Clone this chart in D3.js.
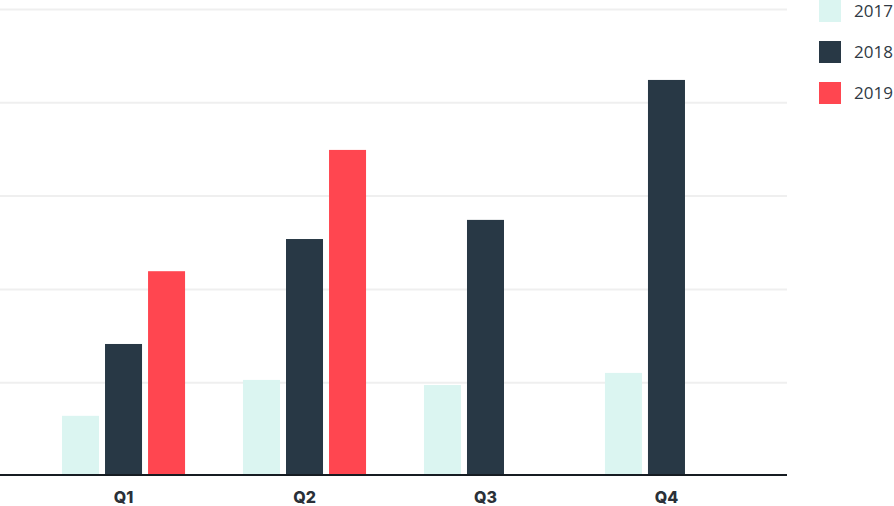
<!DOCTYPE html>
<html>
<head>
<meta charset="utf-8">
<style>
  body { margin: 0; background: #fff; }
  svg { display: block; }
</style>
</head>
<body>
<svg width="894" height="506"></svg>
<script src="https://d3js.org/d3.v7.min.js"></script>
<script>
// quarters along the x axis, one series per year
var quarters = ["Q1", "Q2", "Q3", "Q4"]
var years = ["2017", "2018", "2019"]
var values2017 = [12.9, 20.6, 19.5, 22.1]
var values2018 = [28.3, 50.8, 54.9, 84.9]
var values2019 = [43.9, 69.9, null, null]
var gridTicks = [20, 40, 60, 80, 100]

var colors = { "2017": "#dbf5f1", "2018": "#283845", "2019": "#ff4650" }

// build rows for drawing
var seriesByYear = { "2017": values2017, "2018": values2018, "2019": values2019 }
var rows = []
quarters.forEach(function (q, i) {
  years.forEach(function (y) {
    var v = seriesByYear[y][i]
    if (v != null) rows.push({ quarter: q, year: y, value: v })
  })
})

var svg = d3.select("svg")
var plotRight = 787

var x = d3.scaleBand()
  .domain(quarters)
  .range([0, 790])
  .paddingInner(0.32)
  .paddingOuter(0.3425)

var xInner = d3.scaleBand()
  .domain(years)
  .range([0, x.bandwidth()])
  .paddingInner(0.14)

var y = d3.scaleLinear()
  .domain([0, 100])
  .range([476, 9.5])

// gridlines
svg.append("g").attr("class", "grid")
  .selectAll("line")
  .data(gridTicks)
  .enter().append("line")
  .attr("x1", 0)
  .attr("x2", plotRight)
  .attr("y1", function (d) { return y(d) })
  .attr("y2", function (d) { return y(d) })
  .attr("stroke", "#efefef")
  .attr("stroke-width", 2)

// bars
svg.append("g").attr("class", "bars")
  .selectAll("rect")
  .data(rows)
  .enter().append("rect")
  .attr("x", function (d) { return x(d.quarter) + xInner(d.year) })
  .attr("width", xInner.bandwidth())
  .attr("y", function (d) { return y(d.value) })
  .attr("height", function (d) { return y(0) - y(d.value) })
  .attr("fill", function (d) { return colors[d.year] })

// x axis
var xAxis = svg.append("g")
  .attr("transform", "translate(0," + 475 + ")")
  .call(d3.axisBottom(x).tickSize(0).tickPadding(17))
xAxis.select(".domain")
  .attr("d", "M0,0H" + plotRight)
  .attr("stroke", "#161c22")
  .attr("stroke-width", 2)
xAxis.selectAll("text")
  .attr("font-family", "Inter, 'Open Sans', sans-serif")
  .attr("font-weight", 800)
  .attr("font-size", 16)
  .attr("fill", "#2a3038")

// legend
var legend = svg.append("g").attr("class", "legend")
  .selectAll("g")
  .data(years)
  .enter().append("g")
  .attr("transform", function (d, i) { return "translate(819," + (i * 41) + ")" })
legend.append("rect")
  .attr("width", 22)
  .attr("height", 22)
  .attr("fill", function (d) { return colors[d] })
legend.append("text")
  .attr("x", 35)
  .attr("y", 11)
  .attr("dy", "0.35em")
  .attr("font-family", "'Open Sans', sans-serif")
  .attr("font-size", 17)
  .attr("fill", "#2f3a44")
  .text(function (d) { return d })
</script>
</body>
</html>
